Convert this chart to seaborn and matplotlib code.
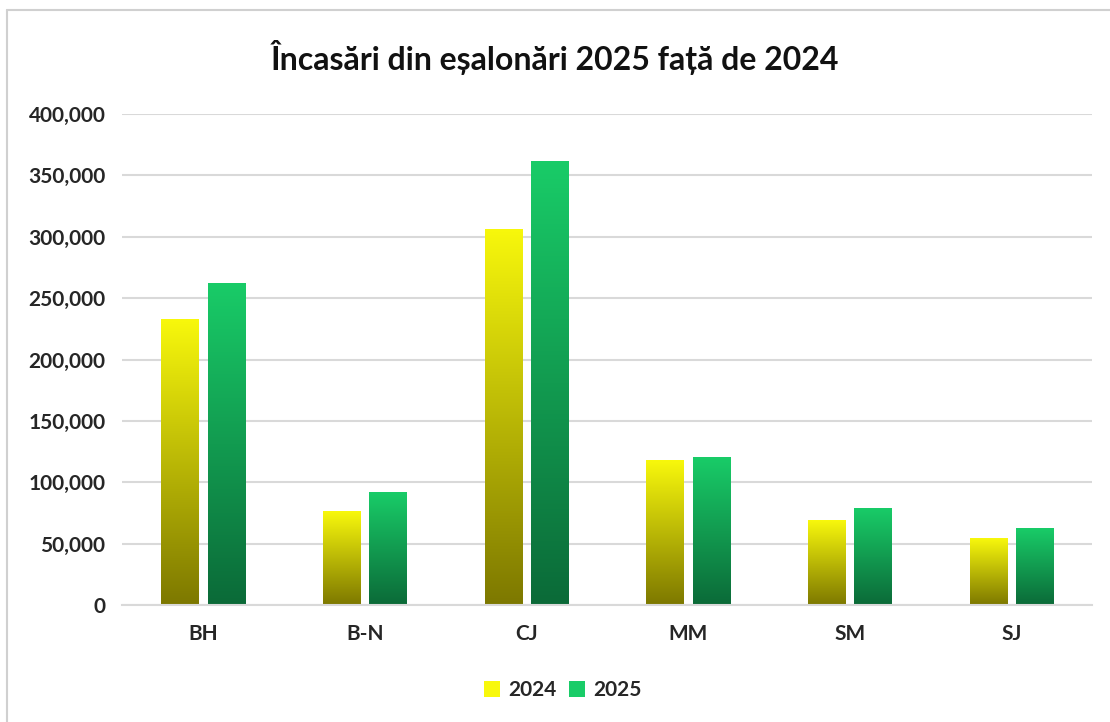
import matplotlib
matplotlib.use("Agg")
import matplotlib.pyplot as plt
import numpy as np
import pandas as pd
import seaborn as sb
from matplotlib.colors import LinearSegmentedColormap
from matplotlib.ticker import FuncFormatter, MultipleLocator
from matplotlib.lines import Line2D
from matplotlib.patches import Patch

# data
judete = ["BH", "B-N", "CJ", "MM", "SM", "SJ"]
ani = ["2024", "2025"]
val_2024 = [233000, 76500, 306500, 118000, 69000, 54500]
val_2025 = [262500, 92000, 362000, 120500, 79000, 62500]

# gradient colours (top, bottom) per year
grad = {"2024": ("#f8f80c", "#7d7800"), "2025": ("#19cc68", "#0b6a38")}

df = pd.DataFrame({
    "Judet": judete * 2,
    "An": ["2024"] * len(judete) + ["2025"] * len(judete),
    "Suma": val_2024 + val_2025,
})

sb.set_style("white")
plt.rcParams["font.family"] = ["Lato", "DejaVu Sans"]

fig = plt.figure(figsize=(11.1, 7.22), dpi=100)
ax = fig.add_axes([0.11, 0.162, 0.874, 0.68])

sb.barplot(data=df, x="Judet", y="Suma", hue="An", hue_order=ani,
           palette={a: grad[a][0] for a in ani}, width=0.574, gap=0.2,
           edgecolor="none", legend=False, ax=ax)

# gradient fill, clipped to each bar
for cont, an in zip(ax.containers, ani):
    cmap = LinearSegmentedColormap.from_list("g" + an, [grad[an][1], grad[an][0]])
    for bar in cont:
        x0, y0 = bar.get_x(), bar.get_y()
        w, h = bar.get_width(), bar.get_height()
        img = ax.imshow(np.linspace(0, 1, 256).reshape(-1, 1), cmap=cmap,
                        aspect="auto", origin="lower",
                        extent=[x0, x0 + w, y0, y0 + h], zorder=bar.get_zorder())
        img.set_clip_path(bar)
ax.set_xlim(-0.5, len(judete) - 0.5)
ax.set_ylim(0, 400000)

ax.yaxis.set_major_locator(MultipleLocator(50000))
ax.yaxis.set_major_formatter(FuncFormatter(lambda v, p: f"{int(v):,}"))
ax.grid(axis="y", color="#d9d9d9", linewidth=1.5)
ax.set_axisbelow(True)
for s in ["top", "right", "left"]:
    ax.spines[s].set_visible(False)
ax.spines["bottom"].set_color("#d9d9d9")
ax.spines["bottom"].set_linewidth(1.5)
ax.tick_params(axis="both", length=0, labelsize=15, colors="#262626")
ax.tick_params(axis="y", pad=12)
ax.tick_params(axis="x", pad=14)
for t in ax.get_xticklabels() + ax.get_yticklabels():
    t.set_fontweight("bold")
ax.set_xlabel("")
ax.set_ylabel("")

fig.text(0.5, 0.921, "Încasări din eșalonări 2025 față de 2024", ha="center",
         va="center", fontsize=23, fontweight="bold", color="#111111")

handles = [Patch(facecolor=grad[a][0], edgecolor="none") for a in ani]
leg = fig.legend(handles, ani, loc="center", bbox_to_anchor=(0.507, 0.044), ncol=2,
                 frameon=False, fontsize=15, handlelength=0.75, handleheight=0.75,
                 handletextpad=0.4, columnspacing=0.6)
for t in leg.get_texts():
    t.set_fontweight("bold")
    t.set_color("#262626")

# light frame at left and top like the screenshot
fig.add_artist(Line2D([0.006, 0.006], [0, 0.986], color="#d0d0d0", lw=1.5))
fig.add_artist(Line2D([0.006, 1], [0.986, 0.986], color="#d0d0d0", lw=1.5))

fig.savefig("out.png", dpi=100)
